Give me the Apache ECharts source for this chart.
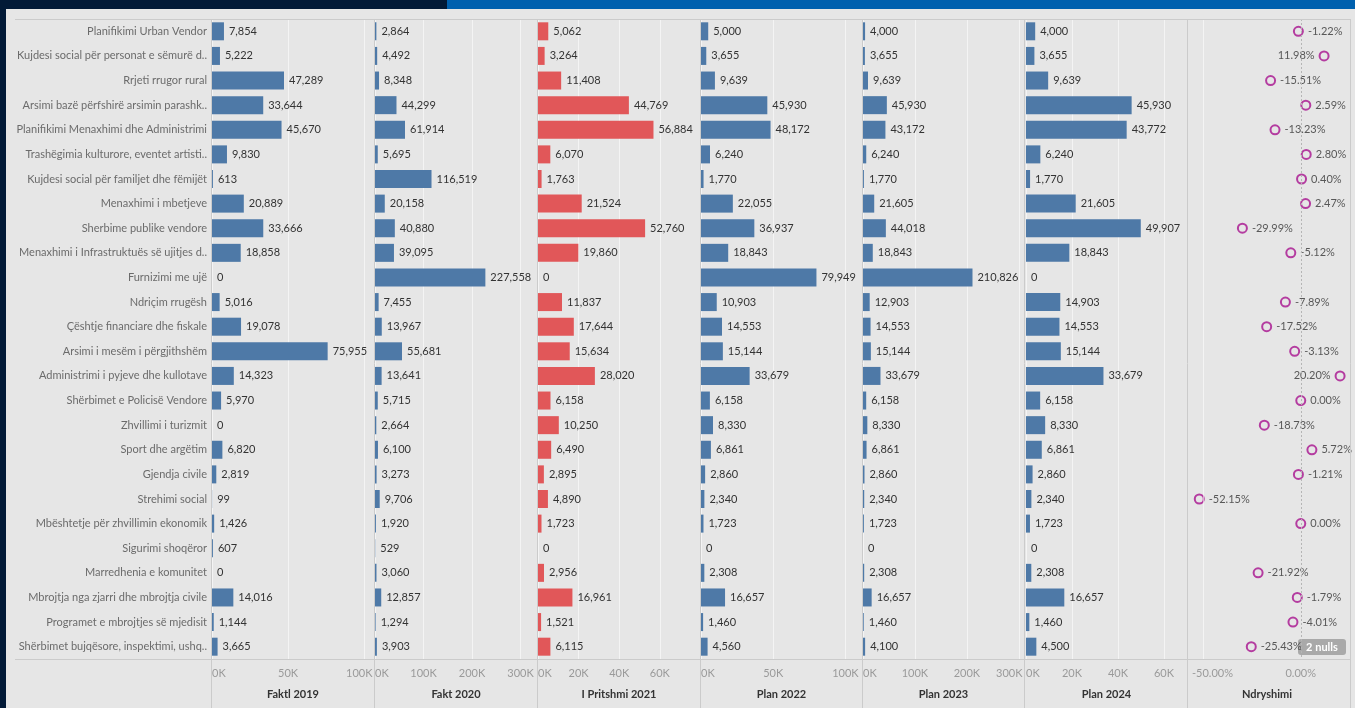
<!DOCTYPE html>
<html lang="sq">
<head>
<meta charset="UTF-8">
<title>Buxheti sipas programeve</title>
<style>
  html, body { margin: 0; padding: 0; background: #021a37; }
  #main { width: 1355px; height: 708px; }
</style>
</head>
<body>
<div id="main"></div>
<script src="https://cdn.jsdelivr.net/npm/echarts@6/dist/echarts.min.js"></script>
<script>
// te dhenat
var categories = [
  'Planifikimi Urban Vendor',
  'Kujdesi social për personat e sëmurë d..',
  'Rrjeti rrugor rural',
  'Arsimi bazë përfshirë arsimin parashk..',
  'Planifikimi Menaxhimi dhe Administrimi',
  'Trashëgimia kulturore, eventet artisti..',
  'Kujdesi social për familjet dhe fëmijët',
  'Menaxhimi i mbetjeve',
  'Sherbime publike vendore',
  'Menaxhimi i Infrastruktuës së ujitjes d..',
  'Furnizimi me ujë',
  'Ndriçim rrugësh',
  'Çështje financiare dhe fiskale',
  'Arsimi i mesëm i përgjithshëm',
  'Administrimi i pyjeve dhe kullotave',
  'Shërbimet e Policisë Vendore',
  'Zhvillimi i turizmit',
  'Sport dhe argëtim',
  'Gjendja civile',
  'Strehimi social',
  'Mbështetje për zhvillimin ekonomik',
  'Sigurimi shoqëror',
  'Marredhenia e komunitet',
  'Mbrojtja nga zjarri dhe mbrojtja civile',
  'Programet e mbrojtjes së mjedisit',
  'Shërbimet bujqësore, inspektimi, ushq..'
];
var fakt2019 = [7854, 5222, 47289, 33644, 45670, 9830, 613, 20889, 33666, 18858, 0, 5016, 19078, 75955, 14323, 5970, 0, 6820, 2819, 99, 1426, 607, 0, 14016, 1144, 3665];
var fakt2020 = [2864, 4492, 8348, 44299, 61914, 5695, 116519, 20158, 40880, 39095, 227558, 7455, 13967, 55681, 13641, 5715, 2664, 6100, 3273, 9706, 1920, 529, 3060, 12857, 1294, 3903];
var pritshmi2021 = [5062, 3264, 11408, 44769, 56884, 6070, 1763, 21524, 52760, 19860, 0, 11837, 17644, 15634, 28020, 6158, 10250, 6490, 2895, 4890, 1723, 0, 2956, 16961, 1521, 6115];
var plan2022 = [5000, 3655, 9639, 45930, 48172, 6240, 1770, 22055, 36937, 18843, 79949, 10903, 14553, 15144, 33679, 6158, 8330, 6861, 2860, 2340, 1723, 0, 2308, 16657, 1460, 4560];
var plan2023 = [4000, 3655, 9639, 45930, 43172, 6240, 1770, 21605, 44018, 18843, 210826, 12903, 14553, 15144, 33679, 6158, 8330, 6861, 2860, 2340, 1723, 0, 2308, 16657, 1460, 4100];
var plan2024 = [4000, 3655, 9639, 45930, 43772, 6240, 1770, 21605, 49907, 18843, 0, 14903, 14553, 15144, 33679, 6158, 8330, 6861, 2860, 2340, 1723, 0, 2308, 16657, 1460, 4500];
var ndryshimi = [-1.22, 11.98, -15.51, 2.59, -13.23, 2.80, 0.40, 2.47, -29.99, -5.12, null, -7.89, -17.52, -3.13, 20.20, 0.00, -18.73, 5.72, -1.21, -52.15, 0.00, null, -21.92, -1.79, -4.01, -25.43];
var titles = ['Faktl 2019', 'Fakt 2020', 'I Pritshmi 2021', 'Plan 2022', 'Plan 2023', 'Plan 2024', 'Ndryshimi'];

var barSeries = [fakt2019, fakt2020, pritshmi2021, plan2022, plan2023, plan2024];
var barColors = ['#4e79a7', '#4e79a7', '#e15759', '#4e79a7', '#4e79a7', '#4e79a7'];

// pozicionet e paneleve (px)
var lefts = [212, 375, 538, 701, 863, 1026, 1184];
var widths = [162, 162, 162, 161, 161, 161, 166];
var panelLeft = [212, 375, 538, 701, 863, 1026, 1188];
var mins = [0, 0, 0, 0, 0, 0, -60];
var maxs = [106400, 334000, 79800, 111500, 310000, 70000, 25.3];
var steps = [50000, 100000, 20000, 50000, 100000, 20000, 10];

var font = 'Lato, "Noto Sans", sans-serif';
var TOP = 19, H = 640;

function fmtNum(v) { return Math.round(v).toLocaleString('en-US'); }
function tickText(i, v) {
  if (i === 6) return (v === -50 || v === 0) ? v.toFixed(2) + '%' : '';
  if (Math.abs(v % steps[i]) > 1e-6) return '';
  return v === 0 ? '0K' : (v / 1000) + 'K';
}

// etiketat afer skajeve zhvendosen brenda panelit (si ne Tableau)
function makeFormatter(i) {
  return function (v) {
    var t = tickText(i, v);
    if (!t) return '';
    var w = t.length * 6 + 1;
    var pos = lefts[i] + (v - mins[i]) / (maxs[i] - mins[i]) * widths[i];
    var rightEdge = lefts[i] + widths[i] - 2;
    var leftEdge = panelLeft[i] + 3;
    if (v !== mins[i] && pos + w / 2 > rightEdge) {
      return '{r' + Math.round(2 * (pos + w / 2 - rightEdge)) + '|' + t + '}';
    }
    if (v !== mins[i] && pos - w / 2 < leftEdge) {
      return '{l' + Math.round(2 * (leftEdge - (pos - w / 2))) + '|' + t + '}';
    }
    return t;
  };
}
var rich = {};
for (var k = 0; k <= 40; k++) {
  rich['r' + k] = { padding: [0, k, 0, 0], color: '#9a9a9a', fontSize: 11, fontFamily: font };
  rich['l' + k] = { padding: [0, 0, 0, k], color: '#9a9a9a', fontSize: 11, fontFamily: font };
}

var grids = [], xAxes = [], yAxes = [], series = [];
for (var i = 0; i < 7; i++) {
  grids.push({ left: lefts[i], top: TOP, width: widths[i], height: H, containLabel: false });
  var isPct = i === 6;
  xAxes.push({
    gridIndex: i, type: 'value', min: mins[i], max: maxs[i], interval: steps[i],
    axisLine: { show: false }, axisTick: { show: false },
    splitLine: { show: !isPct, lineStyle: { color: 'rgba(255,255,255,0.55)', width: 1 } },
    axisLabel: {
      color: '#9a9a9a', fontSize: 11, fontFamily: font, margin: 9,
      alignMinLabel: isPct ? 'center' : 'left',
      formatter: makeFormatter(i), rich: rich
    },
    name: titles[i], nameLocation: 'middle', nameGap: 30,
    nameTextStyle: { color: '#333', fontSize: 11, fontWeight: 'bold', fontFamily: font }
  });
  yAxes.push({
    gridIndex: i, type: 'category', data: categories, inverse: true,
    axisLine: { show: false }, axisTick: { show: false },
    axisLabel: { show: i === 0, color: '#6b6b6b', fontSize: 11, fontFamily: font, margin: 5 }
  });
}

barSeries.forEach(function (d, i) {
  series.push({
    type: 'bar', xAxisIndex: i, yAxisIndex: i, data: d, barWidth: 18,
    itemStyle: { color: barColors[i] },
    label: {
      show: true, position: 'right', distance: 5, color: '#333', fontSize: 11, fontFamily: font,
      formatter: function (p) { return fmtNum(p.value); }
    }
  });
});

series.push({
  type: 'scatter', xAxisIndex: 6, yAxisIndex: 6, symbol: 'circle', symbolSize: 9,
  itemStyle: { color: 'rgba(0,0,0,0)', borderColor: '#a8128e', borderWidth: 2 },
  data: ndryshimi.map(function (v) {
    if (v === null) return '-';
    return { value: v, label: { position: v > 8 ? 'left' : 'right' } };
  }),
  label: {
    show: true, distance: 4, color: '#333', fontSize: 11, fontFamily: font,
    formatter: function (p) { return p.value.toFixed(2) + '%'; }
  },
  markLine: {
    silent: true, symbol: 'none', label: { show: false },
    data: [
      { xAxis: -50, lineStyle: { color: 'rgba(255,255,255,0.55)', type: 'solid', width: 1 } },
      { xAxis: 0, lineStyle: { color: '#b5b5b5', type: [2, 2], width: 1 } }
    ]
  }
});

// ndarjet e paneleve
var seps = [211.5, 374.5, 537.5, 700.5, 862.5, 1024.5, 1187.5, 1350.5];
var graphics = [
  { type: 'rect', z: -10, shape: { x: 6, y: 9, width: 1349, height: 699 }, style: { fill: '#e6e6e6' } },
  { type: 'rect', z: -10, shape: { x: 447, y: 0, width: 908, height: 9 }, style: { fill: '#0060ae' } },
  { type: 'line', z: 50, shape: { x1: 15, y1: 19.5, x2: 1351, y2: 19.5 }, style: { stroke: '#cbcbcb', lineWidth: 1 } },
  { type: 'line', z: 50, shape: { x1: 15, y1: 659.5, x2: 1351, y2: 659.5 }, style: { stroke: '#cbcbcb', lineWidth: 1 } }
];
seps.forEach(function (x) {
  graphics.push({ type: 'line', z: 50, shape: { x1: x, y1: 19, x2: x, y2: 708 }, style: { stroke: '#cbcbcb', lineWidth: 1 } });
});
graphics.push({
  type: 'group', z: 60, children: [
    { type: 'rect', shape: { x: 1298, y: 639, width: 48, height: 16, r: 3 }, style: { fill: '#a9a9a9' } },
    { type: 'text', x: 1322, y: 647, style: { text: '2 nulls', fill: '#fff', font: 'bold 11px ' + font, align: 'center', verticalAlign: 'middle' } }
  ]
});

var myChart = echarts.init(document.getElementById('main'));
myChart.setOption({
  backgroundColor: '#021a37',
  animation: false,
  textStyle: { fontFamily: font },
  grid: grids,
  xAxis: xAxes,
  yAxis: yAxes,
  series: series,
  graphic: graphics
});
</script>
</body>
</html>
